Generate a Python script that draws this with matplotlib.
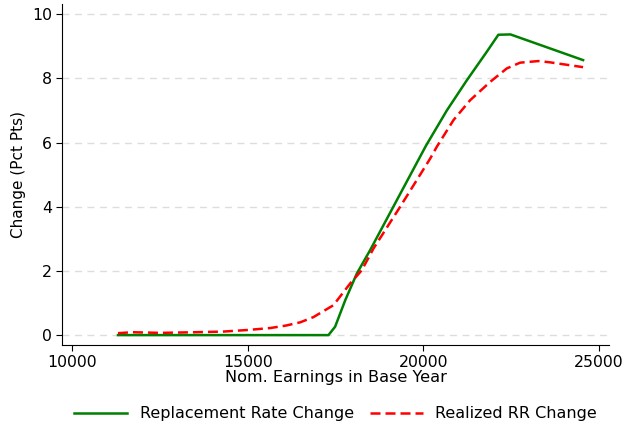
import matplotlib
matplotlib.use('Agg')
import matplotlib.pyplot as plt

# 資料
earn_rr = [11300, 17300, 17490, 17780, 18110, 18490, 19150, 20080, 20675, 21245, 21815, 22145, 22490, 24560]
rr_change = [0.0, 0.0, 0.26, 1.09, 1.92, 2.65, 4.0, 5.90, 7.0, 7.94, 8.83, 9.36, 9.37, 8.57]

earn_real = [11300, 11700, 12500, 13500, 14300, 15000, 15640, 16100, 16500, 16870, 17440, 17920, 18250,
             18585, 19345, 20200, 20390, 20865, 21340, 21910, 22385, 22765, 23285, 23620, 24560]
real_change = [0.06, 0.09, 0.07, 0.09, 0.11, 0.16, 0.22, 0.30, 0.40, 0.56, 0.93, 1.61, 2.02,
               2.70, 4.0, 5.50, 5.87, 6.70, 7.32, 7.89, 8.31, 8.49, 8.54, 8.50, 8.35]

plt.rcParams['font.family'] = ['DejaVu Sans']
fig, ax = plt.subplots(figsize=(6.24, 4.26), dpi=100)
fig.subplots_adjust(left=0.1, right=0.976, top=0.99, bottom=0.19)

ax.plot(earn_rr, rr_change, color='green', lw=1.8, label='Replacement Rate Change')
ax.plot(earn_real, real_change, color='red', lw=1.8, ls=(0, (4, 2)), label='Realized RR Change')

ax.set_xlim(9715, 25300)
ax.set_ylim(-0.31, 10.31)
ax.set_xticks([10000, 15000, 20000, 25000])
ax.set_yticks([0, 2, 4, 6, 8, 10])
ax.grid(axis='y', color='#dddddd', ls=(0, (5, 4)), lw=1)
ax.set_axisbelow(True)
for s in ['top', 'right']:
    ax.spines[s].set_visible(False)
ax.tick_params(labelsize=11.3, length=4)
ax.set_xlabel('Nom. Earnings in Base Year', fontsize=11.6, labelpad=0)
ax.set_ylabel('Change (Pct Pts)', fontsize=11)
ax.legend(loc='upper center', bbox_to_anchor=(0.5, -0.137), ncol=2, frameon=False,
          fontsize=11.5, handlelength=3.3, columnspacing=1.0)

plt.savefig('out.png', dpi=100)
